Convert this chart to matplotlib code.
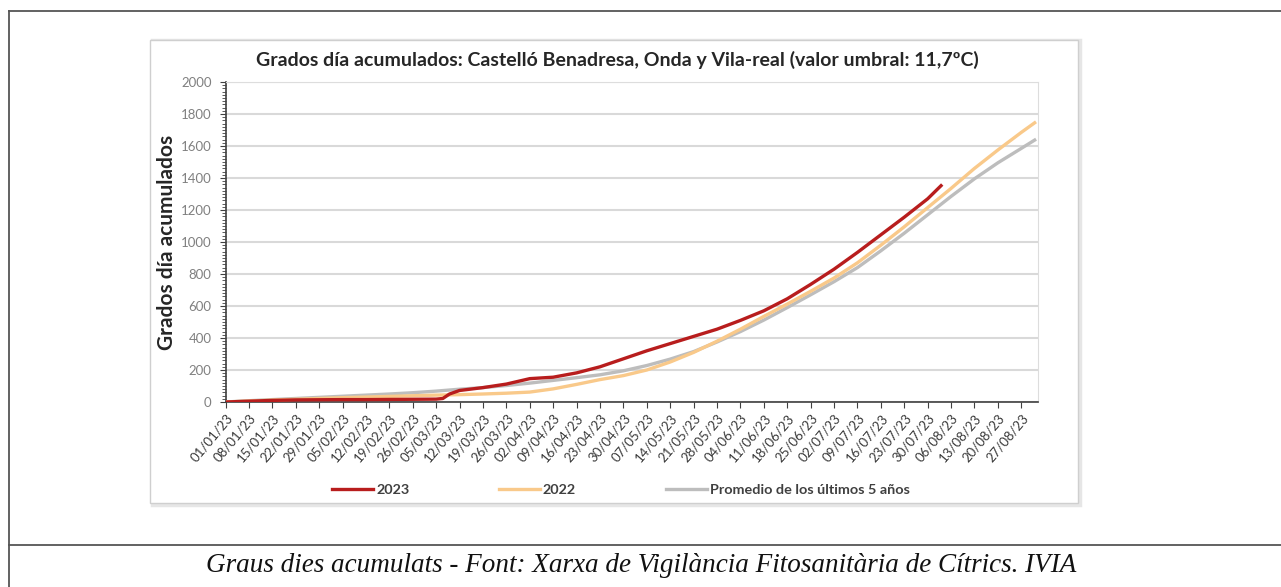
import matplotlib
matplotlib.use('Agg')
import matplotlib.pyplot as plt
import pandas as pd
from matplotlib.lines import Line2D
from matplotlib.patches import Rectangle
from matplotlib.ticker import MultipleLocator

plt.rcParams['font.family'] = ['Lato', 'DejaVu Sans']

# grados dia acumulados (dd/mm)
fechas_2023 = ['01/01', '08/01', '15/01', '22/01', '29/01', '05/02', '12/02', '19/02', '26/02',
               '05/03', '07/03', '09/03', '12/03', '19/03', '26/03', '02/04', '09/04', '16/04',
               '23/04', '30/04', '07/05', '14/05', '21/05', '28/05', '04/06', '11/06', '18/06',
               '25/06', '02/07', '09/07', '16/07', '23/07', '30/07', '03/08']
valores_2023 = [0, 5, 10, 13, 14, 15, 15, 16, 17,
                18, 22, 50, 72, 90, 112, 146, 155, 182,
                220, 270, 320, 365, 410, 455, 510, 570, 645,
                735, 830, 935, 1045, 1155, 1270, 1352]

fechas_2022 = ['01/01', '08/01', '15/01', '22/01', '29/01', '05/02', '12/02', '19/02', '26/02',
               '05/03', '12/03', '19/03', '26/03', '02/04', '09/04', '16/04', '23/04', '30/04',
               '07/05', '14/05', '21/05', '28/05', '04/06', '11/06', '18/06', '25/06', '02/07',
               '09/07', '16/07', '23/07', '30/07', '06/08', '13/08', '20/08', '27/08', '31/08']
valores_2022 = [0, 6, 12, 17, 22, 27, 31, 35, 39,
                43, 46, 50, 55, 62, 82, 110, 140, 165,
                200, 250, 310, 380, 455, 535, 612, 692, 775,
                870, 980, 1095, 1215, 1335, 1460, 1575, 1685, 1745]

fechas_promedio = fechas_2022
valores_promedio = [0, 8, 15, 22, 29, 36, 43, 50, 58,
                    68, 80, 90, 103, 118, 135, 152, 170, 195,
                    228, 268, 315, 375, 440, 512, 590, 670, 752,
                    840, 945, 1055, 1170, 1285, 1395, 1495, 1585, 1637]

series = ['2023', '2022', 'Promedio de los últimos 5 años']
colores = ['#B81D1D', '#F9C98A', '#BDBDBD']

titulo = 'Grados día acumulados: Castelló Benadresa, Onda y Vila-real (valor umbral: 11,7ºC)'
pie = 'Graus dies acumulats - Font: Xarxa de Vigilància Fitosanitària de Cítrics. IVIA'


def a_fecha(lista):
    return pd.to_datetime([d + '/2023' for d in lista], format='%d/%m/%Y')


W, H = 1281, 587
fig = plt.figure(figsize=(W / 100, H / 100), dpi=100)


def fx(px):
    return px / W


def fy(py):
    return 1 - py / H


# marco exterior y separador del pie
for xs, ys in [([9, W], [11, 11]), ([9, 9], [11, H]), ([9, W], [545, 545])]:
    fig.add_artist(Line2D([fx(x) for x in xs], [fy(y) for y in ys], color='#555555', lw=1.3))

# caja del grafico
fig.add_artist(Rectangle((fx(152), fy(505)), fx(928), 465 / H, facecolor='none',
                         edgecolor='#E6E6E6', lw=2.5, zorder=-2))
fig.add_artist(Rectangle((fx(150), fy(503)), fx(928), 463 / H, facecolor='white',
                         edgecolor='#CFCFCF', lw=1.0, zorder=-1))

ax = fig.add_axes([fx(225.5), fy(402), fx(1038 - 225.5), (402 - 82) / H])

ax.plot(a_fecha(fechas_promedio), valores_promedio, color=colores[2], lw=2.4, label=series[2], zorder=3)
ax.plot(a_fecha(fechas_2022), valores_2022, color=colores[1], lw=2.4, label=series[1], zorder=4)
ax.plot(a_fecha(fechas_2023), valores_2023, color=colores[0], lw=2.4, label=series[0], zorder=5)

semanas = pd.date_range('2023-01-01', '2023-08-27', freq='7D')
ax.set_xticks(semanas)
ax.set_xticklabels(semanas.strftime('%d/%m/%y'), rotation=50, ha='right',
                   rotation_mode='anchor', fontsize=9.5, color='#3A3A3A')
ax.set_xlim(pd.Timestamp('2023-01-01'), pd.Timestamp('2023-09-01'))

ax.set_ylim(0, 2000)
ax.yaxis.set_major_locator(MultipleLocator(200))
ax.yaxis.set_minor_locator(MultipleLocator(20))
ax.tick_params(axis='y', which='major', labelsize=9.5, labelcolor='#808080', length=4, color='#404040', pad=6)
ax.tick_params(axis='y', which='minor', length=3, color='#404040')
ax.tick_params(axis='x', length=4, color='#404040', pad=3)
ax.grid(axis='y', color='#D9D9D9', lw=1.5)
ax.set_axisbelow(True)
for lado in ['top', 'right']:
    ax.spines[lado].set_color('#DDDDDD')
for lado in ['left', 'bottom']:
    ax.spines[lado].set_color('#404040')
    ax.spines[lado].set_linewidth(1.2)

ax.set_ylabel('Grados día acumulados', fontsize=15, fontweight='bold', color='#262626', labelpad=3)

fig.text(fx(617), fy(60), titulo, ha='center', va='center', fontsize=14, fontweight='bold',
         color='#262626')

handles, labels = ax.get_legend_handles_labels()
orden = [2, 1, 0]
leg = fig.legend([handles[i] for i in orden], [labels[i] for i in orden], ncol=3,
                 loc='center left', bbox_to_anchor=(fx(319), fy(490)), frameon=False,
                 handlelength=2.85, handletextpad=0.2, columnspacing=6.2,
                 prop={'weight': 'bold', 'size': 10.4})
for t in leg.get_texts():
    t.set_color('#404040')

fig.text(fx(641), fy(566), pie, ha='center', va='center', fontsize=19.5, style='italic',
         family='Liberation Serif', color='#111111')

fig.savefig('out.png', dpi=100)
